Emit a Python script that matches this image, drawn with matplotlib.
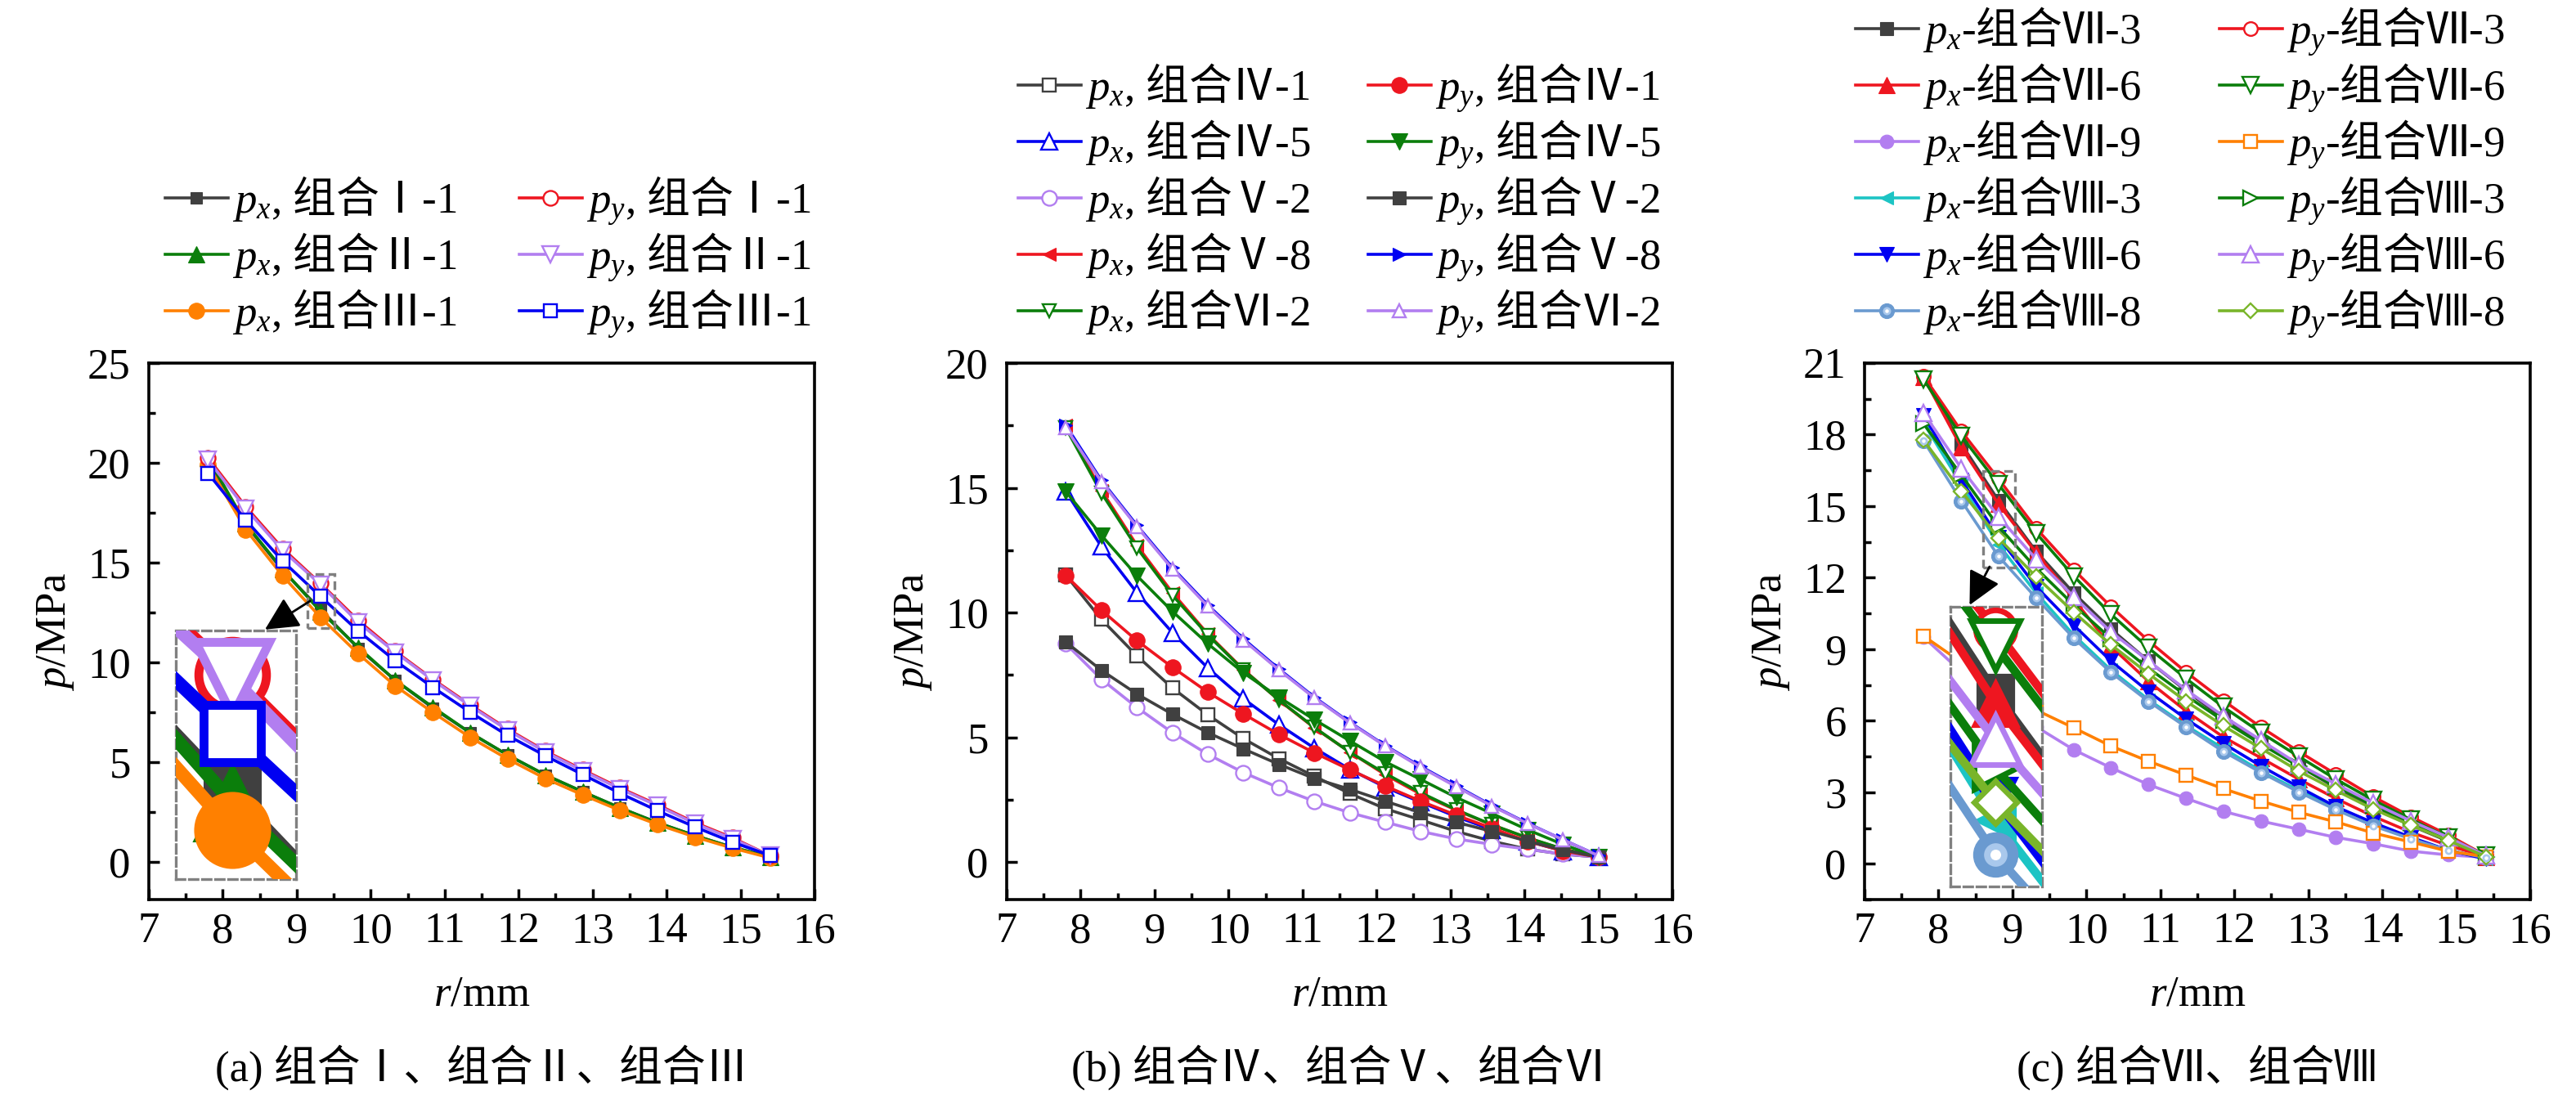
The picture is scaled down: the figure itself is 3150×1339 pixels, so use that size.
import matplotlib
matplotlib.use('Agg')
import matplotlib.pyplot as plt
from matplotlib.patches import Rectangle
from matplotlib.ticker import MultipleLocator

plt.rcParams['font.family'] = ['Liberation Serif', 'Noto Sans CJK SC']
plt.rcParams['mathtext.fontset'] = 'custom'
plt.rcParams['mathtext.rm'] = 'Noto Sans CJK SC'
plt.rcParams['mathtext.it'] = 'Liberation Serif:italic'
plt.rcParams['mathtext.bf'] = 'Liberation Serif:bold'

# ---------------- data ----------------
r_a = [7.8, 8.31, 8.81, 9.32, 9.83, 10.33, 10.84, 11.35, 11.85, 12.36, 12.87, 13.37, 13.88, 14.39, 14.89, 15.4]
a_px_I = [20.1, 16.9, 14.6, 12.65, 10.7, 9.1, 7.7, 6.45, 5.35, 4.35, 3.5, 2.7, 1.95, 1.3, 0.72, 0.22]
a_px_II = [20.25, 16.95, 14.65, 12.55, 10.75, 9.1, 7.75, 6.45, 5.35, 4.35, 3.5, 2.7, 1.95, 1.3, 0.72, 0.25]
a_px_III = [19.9, 16.65, 14.33, 12.25, 10.43, 8.82, 7.48, 6.22, 5.15, 4.17, 3.34, 2.57, 1.86, 1.23, 0.68, 0.19]
a_py_I = [20.25, 17.8, 15.7, 13.95, 12.1, 10.55, 9.15, 7.85, 6.65, 5.55, 4.6, 3.7, 2.85, 1.95, 1.2, 0.3]
a_py_II = [20.15, 17.7, 15.6, 13.9, 12.0, 10.5, 9.1, 7.8, 6.6, 5.5, 4.55, 3.65, 2.8, 1.9, 1.15, 0.3]
a_py_III = [19.48, 17.13, 15.07, 13.3, 11.57, 10.08, 8.74, 7.48, 6.33, 5.31, 4.36, 3.43, 2.55, 1.73, 0.98, 0.31]
a_groups = ['Ⅰ', 'Ⅱ', 'Ⅲ']
a_ids = ['1', '1', '1']

r_b = [7.8, 8.28, 8.76, 9.24, 9.72, 10.2, 10.68, 11.16, 11.64, 12.12, 12.6, 13.08, 13.56, 14.04, 14.52, 15.0]
b_px_IV1 = [11.5, 9.73, 8.27, 6.98, 5.9, 4.95, 4.15, 3.44, 2.75, 2.14, 1.69, 1.23, 0.84, 0.52, 0.32, 0.2]
b_px_IV5 = [14.85, 12.65, 10.8, 9.2, 7.78, 6.55, 5.51, 4.57, 3.72, 3.0, 2.4, 1.82, 1.3, 0.84, 0.45, 0.2]
b_px_V2 = [8.75, 7.33, 6.2, 5.19, 4.32, 3.59, 2.98, 2.44, 1.98, 1.6, 1.23, 0.93, 0.71, 0.52, 0.32, 0.2]
b_px_V8 = [17.5, 14.9, 12.7, 10.8, 9.14, 7.72, 6.49, 5.38, 4.41, 3.5, 2.72, 2.08, 1.49, 0.97, 0.52, 0.2]
b_px_VI2 = [17.4, 14.8, 12.6, 10.7, 9.1, 7.7, 6.5, 5.4, 4.4, 3.55, 2.78, 2.1, 1.5, 0.98, 0.53, 0.2]
b_py_IV1 = [11.48, 10.1, 8.88, 7.81, 6.81, 5.94, 5.12, 4.38, 3.7, 3.05, 2.44, 1.88, 1.36, 0.84, 0.45, 0.2]
b_py_IV5 = [14.85, 13.1, 11.48, 10.05, 8.75, 7.59, 6.61, 5.71, 4.86, 4.02, 3.31, 2.59, 1.95, 1.3, 0.71, 0.2]
b_py_V2 = [8.82, 7.69, 6.74, 5.93, 5.19, 4.54, 3.92, 3.35, 2.92, 2.44, 1.98, 1.6, 1.23, 0.84, 0.49, 0.2]
b_py_V8 = [17.5, 15.3, 13.5, 11.8, 10.3, 8.95, 7.74, 6.61, 5.6, 4.67, 3.83, 3.05, 2.27, 1.56, 0.9, 0.26]
b_py_VI2 = [17.4, 15.25, 13.45, 11.75, 10.25, 8.9, 7.7, 6.58, 5.58, 4.65, 3.8, 3.02, 2.25, 1.55, 0.9, 0.26]
b_groups = ['Ⅳ', 'Ⅳ', 'Ⅴ', 'Ⅴ', 'Ⅵ']
b_ids = ['1', '5', '2', '8', '2']

r_c = [7.8, 8.31, 8.81, 9.32, 9.83, 10.33, 10.84, 11.35, 11.85, 12.36, 12.87, 13.37, 13.88, 14.39, 14.89, 15.4]
c_px_VII3 = [20.4, 17.6, 15.24, 13.1, 11.35, 9.85, 8.5, 7.25, 6.1, 5.05, 4.1, 3.2, 2.35, 1.6, 0.95, 0.3]
c_px_VII6 = [20.4, 17.46, 15.09, 13.05, 11.09, 9.12, 7.65, 6.4, 5.32, 4.44, 3.55, 2.74, 1.99, 1.32, 0.77, 0.3]
c_px_VII9 = [9.5, 8.05, 6.8, 5.75, 4.78, 4.03, 3.32, 2.74, 2.2, 1.79, 1.45, 1.11, 0.84, 0.53, 0.37, 0.27]
c_px_VIII3 = [18.48, 15.9, 13.4, 11.36, 9.59, 8.13, 6.88, 5.79, 4.84, 3.89, 3.08, 2.33, 1.66, 1.04, 0.57, 0.23]
c_px_VIII6 = [18.8, 16.1, 13.7, 11.63, 10.0, 8.51, 7.22, 6.07, 5.05, 4.1, 3.22, 2.4, 1.72, 1.11, 0.57, 0.2]
c_px_VIII8 = [17.73, 15.22, 12.9, 11.15, 9.46, 8.03, 6.81, 5.73, 4.71, 3.83, 3.01, 2.27, 1.59, 1.04, 0.57, 0.25]
c_py_VII3 = [20.45, 18.14, 16.15, 14.07, 12.33, 10.79, 9.35, 8.03, 6.85, 5.73, 4.71, 3.76, 2.81, 1.97, 1.21, 0.34]
c_py_VII6 = [20.3, 17.94, 15.92, 13.87, 12.06, 10.47, 9.05, 7.76, 6.58, 5.5, 4.5, 3.55, 2.67, 1.86, 1.11, 0.34]
c_py_VII9 = [9.55, 8.45, 7.4, 6.45, 5.7, 4.94, 4.3, 3.72, 3.15, 2.63, 2.16, 1.76, 1.29, 0.91, 0.53, 0.3]
c_py_VIII3 = [18.45, 16.3, 14.15, 12.4, 10.85, 9.45, 8.2, 7.05, 6.0, 5.02, 4.1, 3.25, 2.45, 1.72, 1.05, 0.3]
c_py_VIII6 = [18.9, 16.58, 14.56, 12.78, 11.2, 9.73, 8.51, 7.29, 6.2, 5.18, 4.17, 3.35, 2.54, 1.79, 1.11, 0.34]
c_py_VIII8 = [17.76, 15.63, 13.66, 12.04, 10.55, 9.19, 7.97, 6.81, 5.79, 4.84, 3.89, 3.08, 2.29, 1.61, 0.98, 0.3]
c_groups = ['Ⅶ', 'Ⅶ', 'Ⅶ', 'Ⅷ', 'Ⅷ', 'Ⅷ']
c_ids = ['3', '6', '9', '3', '6', '8']

x_ticks = [7, 8, 9, 10, 11, 12, 13, 14, 15, 16]
captions = ['(a) 组合Ⅰ、组合Ⅱ、组合Ⅲ', '(b) 组合Ⅳ、组合Ⅴ、组合Ⅵ', '(c) 组合Ⅶ、组合Ⅷ']


def lab(comp, grp, idx, sep):
    # p_x / p_y in italic serif, Chinese via mathtext rm (CJK font), rest in serif text
    if sep == ',':
        return '$p_%s$, $\\mathrm{组合%s}$-%s' % (comp, grp, idx)
    return '$p_%s$-$\\mathrm{组合%s}$-%s' % (comp, grp, idx)


a_labels_px = [lab('x', g, i, ',') for g, i in zip(a_groups, a_ids)]
a_labels_py = [lab('y', g, i, ',') for g, i in zip(a_groups, a_ids)]
b_labels_px = [lab('x', g, i, ',') for g, i in zip(b_groups, b_ids)]
b_labels_py = [lab('y', g, i, ',') for g, i in zip(b_groups, b_ids)]
c_labels_px = [lab('x', g, i, '-') for g, i in zip(c_groups, c_ids)]
c_labels_py = [lab('y', g, i, '-') for g, i in zip(c_groups, c_ids)]

# ---------------- style ----------------
GRAY = '#404040'; RED = '#EE1620'; GREEN = '#0B7E0B'; ORANGE = '#FF8000'
BLUE = '#0000F2'; PURPLE = '#B27EF0'; CYAN = '#1CC4C4'; STEEL = '#6A9AD0'; OLIVE = '#79B52A'
FS = 38
FSPX = FS * 100 / 72
LW = 2.6
W, H = 3150, 1339

fig = plt.figure(figsize=(W / 100, H / 100), dpi=100)


def px_rect(l, r, t, b):
    return [l / W, 1 - b / H, (r - l) / W, (b - t) / H]


def draw(ax, x, y, st, k=1.0, z=3):
    fill = st[2]
    mfc = st[0] if fill else 'white'
    mew = (0.8 if fill else 1.7) * k
    ln, = ax.plot(x, y, color=st[0], lw=LW * k, marker=st[1], ms=st[3] * k,
                  mfc=mfc, mec=st[0], mew=mew, zorder=z)
    if len(st) > 4 and st[4] == 'sphere':
        h1, = ax.plot(x, y, ls='none', marker='o', ms=st[3] * k * 0.55, mfc='#A9C8EC',
                      mec='none', zorder=z + 0.01)
        h2, = ax.plot(x, y, ls='none', marker='o', ms=st[3] * k * 0.25, mfc='white',
                      mec='none', zorder=z + 0.02)
        return (ln, h1, h2)
    return ln


def setup_axes(ax, ylim, ymaj, ymin, cap):
    ax.set_xlim(7, 16)
    ax.set_ylim(*ylim)
    ax.set_xticks(x_ticks)
    ax.xaxis.set_minor_locator(MultipleLocator(0.5))
    ax.yaxis.set_major_locator(MultipleLocator(ymaj))
    ax.yaxis.set_minor_locator(MultipleLocator(ymin))
    ax.tick_params(which='both', direction='in', width=2.5, labelsize=FS, top=False, right=False)
    ax.tick_params(which='major', length=9.5)
    ax.tick_params(which='minor', length=5.5)
    ax.tick_params(axis='x', pad=11)
    ax.tick_params(axis='y', pad=16)
    for sp in ax.spines.values():
        sp.set_linewidth(2.6)
    ax.set_xlabel('$r$/mm', fontsize=FS, va='center')
    ax.xaxis.set_label_coords(0.5, (1100 - 1216) / 656)
    ax.set_ylabel('$p$/MPa', fontsize=FS, va='center', ha='center')
    ax.yaxis.set_label_coords((68 - 182) / 814, 0.5)
    ax.text(0.5, (1100 - 1305) / 656, cap, transform=ax.transAxes, ha='center', va='center', fontsize=FS)


def add_inset(ax, series, ins_box, small_box, mag, tail, tip):
    x0, x1, y0, y1 = ins_box
    ins = ax.inset_axes([x0, y0, x1 - x0, y1 - y0], transform=ax.transData, zorder=8)
    for (x, y, st) in series:
        draw(ins, x, y, st, k=mag)
    bx0, bx1, by0, by1 = small_box
    ins.set_xlim(bx0, bx1)
    ins.set_ylim(by0, by1)
    ins.set_xticks([]); ins.set_yticks([])
    ins.set_facecolor('white')
    for sp in ins.spines.values():
        sp.set_linestyle((0, (3.2, 1.6)))
        sp.set_edgecolor('#808080')
        sp.set_linewidth(2.4)
    ax.add_patch(Rectangle((bx0, by0), bx1 - bx0, by1 - by0, fill=False, ls=(0, (3.2, 1.6)),
                           ec='#808080', lw=2.4, zorder=9))
    ax.annotate('', xy=tip, xytext=tail, zorder=10,
                arrowprops=dict(arrowstyle='-|>,head_length=0.9,head_width=0.45', color='black',
                                lw=2.0, mutation_scale=28, shrinkA=0, shrinkB=0))


def make_leg(ax, handles, labels, x, ytop, ls):
    return ax.legend(handles, labels, loc='upper left', bbox_to_anchor=(x / W, 1 - ytop / H),
                     bbox_transform=fig.transFigure, frameon=False, fontsize=FS,
                     handlelength=1.45, handletextpad=0.1, borderpad=0, borderaxespad=0,
                     labelspacing=ls, numpoints=1)


def handle_y(leg, i):
    h = leg.legend_handles[i]
    p = h.get_transform().transform([[h.get_xdata()[0], h.get_ydata()[0]]])
    return H - p[0][1]


def place_legend(ax, handles, labels, x, row1, pitch):
    ls, ytop = 0.3, row1 - 30
    leg = make_leg(ax, handles, labels, x, ytop, ls)
    fig.canvas.draw()
    meas = (handle_y(leg, len(handles) - 1 if not isinstance(handles[-1], tuple) else len(handles) - 2)
            - handle_y(leg, 0)) / ((len(handles) - 1) if not isinstance(handles[-1], tuple) else (len(handles) - 2))
    ls += (pitch - meas) / FSPX
    leg.remove()
    leg = make_leg(ax, handles, labels, x, ytop, ls)
    fig.canvas.draw()
    ytop += row1 - handle_y(leg, 0)
    leg.remove()
    return make_leg(ax, handles, labels, x, ytop, ls)


def add_legends(ax, hpx, lpx, hpy, lpy, x1, x2, row1, pitch=69):
    leg1 = place_legend(ax, hpx, lpx, x1, row1, pitch)
    ax.add_artist(leg1)
    place_legend(ax, hpy, lpy, x2, row1, pitch)


# ---------------- panel a ----------------
axa = fig.add_axes(px_rect(182, 996, 444, 1100))
sa = [
    (r_a, a_px_I, (GRAY, 's', True, 10.5)),
    (r_a, a_px_II, (GREEN, '^', True, 14)),
    (r_a, a_px_III, (ORANGE, 'o', True, 14)),
    (r_a, a_py_I, (RED, 'o', False, 13)),
    (r_a, a_py_II, (PURPLE, 'v', False, 14)),
    (r_a, a_py_III, (BLUE, 's', False, 11)),
]
ha = [draw(axa, x, y, st) for (x, y, st) in sa]
setup_axes(axa, (-1.9, 25), 5, 2.5, captions[0])
add_inset(axa, sa, (7.36, 8.99, -0.86, 11.6), (9.15, 9.51, 11.72, 14.43), 4.58,
          (9.18, 13.07), (8.57, 11.64))

# ---------------- panel b ----------------
axb = fig.add_axes(px_rect(1231, 2045, 444, 1100))
sb = [
    (r_b, b_px_IV1, (GRAY, 's', False, 11)),
    (r_b, b_px_IV5, (BLUE, '^', False, 15)),
    (r_b, b_px_V2, (PURPLE, 'o', False, 13)),
    (r_b, b_px_V8, (RED, '<', True, 11)),
    (r_b, b_px_VI2, (GREEN, 'v', False, 11)),
    (r_b, b_py_IV1, (RED, 'o', True, 14)),
    (r_b, b_py_IV5, (GREEN, 'v', True, 15)),
    (r_b, b_py_V2, (GRAY, 's', True, 12)),
    (r_b, b_py_V8, (BLUE, '>', True, 11)),
    (r_b, b_py_VI2, (PURPLE, '^', False, 11)),
]
hb = [draw(axb, x, y, st) for (x, y, st) in sb]
setup_axes(axb, (-1.5, 20), 5, 2.5, captions[1])

# ---------------- panel c ----------------
axc = fig.add_axes(px_rect(2280, 3094, 444, 1100))
sc = [
    (r_c, c_px_VII3, (GRAY, 's', True, 11)),
    (r_c, c_px_VII6, (RED, '^', True, 14)),
    (r_c, c_px_VII9, (PURPLE, 'o', True, 12)),
    (r_c, c_px_VIII3, (CYAN, '<', True, 12)),
    (r_c, c_px_VIII6, (BLUE, 'v', True, 13)),
    (r_c, c_px_VIII8, (STEEL, 'o', True, 13, 'sphere')),
    (r_c, c_py_VII3, (RED, 'o', False, 12)),
    (r_c, c_py_VII6, (GREEN, 'v', False, 15)),
    (r_c, c_py_VII9, (ORANGE, 's', False, 11)),
    (r_c, c_py_VIII3, (GREEN, '>', False, 13)),
    (r_c, c_py_VIII6, (PURPLE, '^', False, 15)),
    (r_c, c_py_VIII8, (OLIVE, 'D', False, 9)),
]
hc = [draw(axc, x, y, st) for (x, y, st) in sc]
setup_axes(axc, (-1.5, 21), 3, 1.5, captions[2])
add_inset(axc, sc, (8.16, 9.4, -0.95, 10.78), (8.6, 9.03, 12.44, 16.48), 2.89,
          (8.69, 12.46), (8.42, 10.85))

# ---------------- legends ----------------
add_legends(axa, ha[:3], a_labels_px, ha[3:], a_labels_py, 202, 635, 242)
add_legends(axb, hb[:5], b_labels_px, hb[5:], b_labels_py, 1245, 1673, 104)
add_legends(axc, hc[:6], c_labels_px, hc[6:], c_labels_py, 2269, 2714, 35)

fig.savefig('out.png', dpi=100)
